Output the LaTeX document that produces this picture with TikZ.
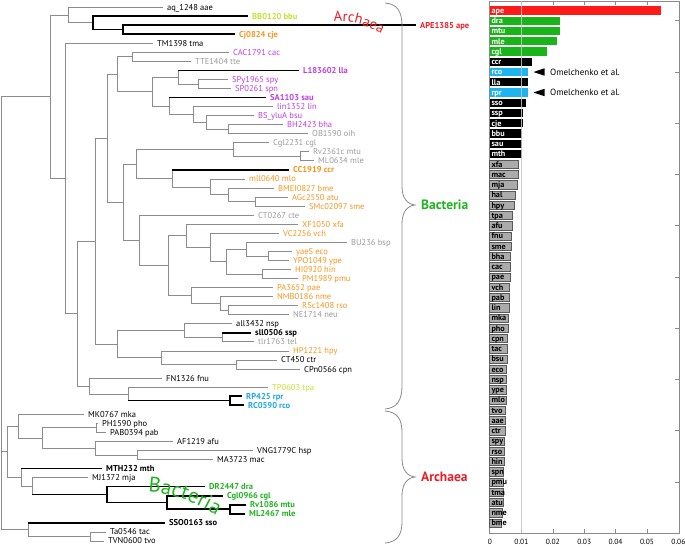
\documentclass[tikz,border=0pt]{standalone}
\usepackage{fontspec}
\setmainfont{PT Sans}
\usetikzlibrary{decorations.text}
\definecolor{brgray}{HTML}{8C8C8C}
\definecolor{tgray}{HTML}{9B9B9B}
\definecolor{orng}{HTML}{F7941D}
\definecolor{purp}{HTML}{C03CE6}
\definecolor{ygrn}{HTML}{C5E02E}
\definecolor{grn}{HTML}{1EB41E}
\definecolor{cyn}{HTML}{1EA5E6}
\definecolor{redt}{HTML}{EE1C25}
\definecolor{barred}{HTML}{FF1A1A}
\definecolor{bargrn}{HTML}{19B419}
\definecolor{barblu}{HTML}{1EB4F0}
\definecolor{bargry}{HTML}{ABABAB}
\definecolor{axcol}{HTML}{8A8A8A}
\newcommand\lfont{\fontsize{8.5}{9}\selectfont}
\newcommand\bfnt{\fontsize{8.2}{8.5}\selectfont\bfseries}
\begin{document}
\begin{tikzpicture}[x=1pt,y=-1pt,
 br/.style={draw=brgray,line width=0.75pt},
 tk/.style={draw=black,line width=1.6pt},
 leaf/.style={anchor=west,inner xsep=4.5pt,inner ysep=0pt,text height=6pt,text depth=0pt,font=\lfont,text=black},
 bd/.style={font=\lfont\bfseries},
 blab/.style={anchor=west,inner sep=0pt,text height=5.8pt,text depth=0pt,font=\bfnt},
 bred/.style={fill=barred},
 bgrn/.style={fill=bargrn},
 bblk/.style={fill=black},
 bblu/.style={fill=barblu},
 bgry/.style={fill=bargry,draw=black!65,line width=0.5pt},
 axl/.style={draw=axcol,line width=0.6pt},
 brace/.style={draw=axcol,line width=0.8pt},
 ticklab/.style={anchor=north,inner sep=0pt,text height=5pt,text depth=0pt,font=\fontsize{7.5}{8}\selectfont}
]
\useasboundingbox (0,0) rectangle (685,547);

% ---------- internal nodes ----------
\coordinate (root) at (1,313.15);
\coordinate (Bact) at (50,96.65);
\coordinate (aaeG) at (68,14.92);
\coordinate (G1) at (93,22.84);
\coordinate (G2) at (123,29.625);
\coordinate (Rest) at (65,178.38);
\coordinate (R2) at (77,313.55);
\coordinate (R3) at (95,241.14);
\coordinate (R4) at (89,385.97);
\coordinate (R5) at (128,393.89);
\coordinate (R6) at (230,400.675);
\coordinate (R7) at (107,138.17);
\coordinate (R8) at (117,344.11);
\coordinate (R9) at (184,330.54);
\coordinate (R11) at (222,337.325);
\coordinate (R10) at (161,357.69);
\coordinate (R12) at (236,364.475);
\coordinate (R13) at (117,74.17);
\coordinate (R32) at (132,56.775);
\coordinate (R33) at (152,91.56);
\coordinate (R35) at (178,77.14);
\coordinate (R34) at (198,83.925);
\coordinate (R39) at (169,105.98);
\coordinate (R38) at (193,114.47);
\coordinate (R37) at (206,122.39);
\coordinate (R36) at (228,129.175);
\coordinate (R14) at (123,202.18);
\coordinate (R15) at (136,163.96);
\coordinate (CglG) at (233,149.54);
\coordinate (R18) at (300,156.325);
\coordinate (R17) at (172,178.385);
\coordinate (R19) at (210,186.87);
\coordinate (R20) at (228,194.79);
\coordinate (R21) at (255,201.575);
\coordinate (R16) at (139,240.4);
\coordinate (R22) at (168,265.64);
\coordinate (R23) at (186,235.8);
\coordinate (R25) at (210,247.39);
\coordinate (R26) at (226,261.53);
\coordinate (bspG) at (246,249.09);
\coordinate (ecoG) at (268,255.875);
\coordinate (hinG) at (262,273.975);
\coordinate (R24) at (191,295.47);
\coordinate (R29) at (220,303.39);
\coordinate (R30) at (228,310.175);
\coordinate (Arch1) at (7,451.72);
\coordinate (A1) at (18,426.13);
\coordinate (A3) at (42,438.01);
\coordinate (A4) at (96,427.825);
\coordinate (A5) at (95,448.19);
\coordinate (A6) at (137,454.975);
\coordinate (A2) at (21,477.32);
\coordinate (A7) at (32,486.08);
\coordinate (A8) at (107,494.57);
\coordinate (A9) at (167,502.49);
\coordinate (A10) at (230,509.275);
\coordinate (SsoG) at (28,529.64);
\coordinate (A11) at (90,536.425);

% ---------- leaves ----------
\node[leaf] (n1) at (162.5,7.00) {aq\_1248 aae};
\node[leaf,bd,text=ygrn] (n2) at (247.5,16.05) {BB0120 bbu};
\node[leaf,bd,text=redt] (n3) at (415.5,25.10) {APE1385 ape};
\node[leaf,bd,text=orng] (n4) at (234.5,34.15) {Cj0824 cje};
\node[leaf] (n5) at (152.5,43.20) {TM1398 tma};
\node[leaf,text=purp] (n6) at (228.5,52.25) {CAC1791 cac};
\node[leaf,text=tgray] (n7) at (190.5,61.30) {TTE1404 tte};
\node[leaf,bd,text=purp] (n8) at (298.5,70.35) {L183602 lla};
\node[leaf,text=purp] (n9) at (227.5,79.40) {SPy1965 spy};
\node[leaf,text=purp] (n10) at (230.5,88.45) {SP0261 spn};
\node[leaf,bd,text=purp] (n11) at (265.5,97.50) {SA1103 sau};
\node[leaf,text=purp] (n12) at (272.5,106.55) {lin1352 lin};
\node[leaf,text=purp] (n13) at (253.5,115.60) {BS\_yluA bsu};
\node[leaf,text=purp] (n14) at (282.5,124.65) {BH2423 bha};
\node[leaf,text=tgray] (n15) at (307.5,133.70) {OB1590 oih};
\node[leaf,text=tgray] (n16) at (268.5,142.75) {Cgl2231 cgl};
\node[leaf,text=tgray] (n17) at (308.5,151.80) {Rv2361c mtu};
\node[leaf,text=tgray] (n18) at (313.5,160.85) {ML0634 mle};
\node[leaf,bd,text=orng] (n19) at (288.5,169.90) {CC1919 ccr};
\node[leaf,text=orng] (n20) at (244.5,178.95) {mll0640 mlo};
\node[leaf,text=orng] (n21) at (273.5,188.00) {BMEI0827 bme};
\node[leaf,text=orng] (n22) at (287.5,197.05) {AGc2550 atu};
\node[leaf,text=orng] (n23) at (304.5,206.10) {SMc02097 sme};
\node[leaf,text=tgray] (n24) at (253.5,215.15) {CT0267 cte};
\node[leaf,text=orng] (n25) at (297.5,224.20) {XF1050 xfa};
\node[leaf,text=orng] (n26) at (278.5,233.25) {VC2256 vch};
\node[leaf,text=tgray] (n27) at (346.5,242.30) {BU236 bsp};
\node[leaf,text=orng] (n28) at (291.5,251.35) {yaeS eco};
\node[leaf,text=orng] (n29) at (288.5,260.40) {YPO1049 ype};
\node[leaf,text=orng] (n30) at (290.5,269.45) {HI0920 hin};
\node[leaf,text=orng] (n31) at (297.5,278.50) {PM1989 pmu};
\node[leaf,text=orng] (n32) at (272.5,287.55) {PA3652 pae};
\node[leaf,text=orng] (n33) at (272.5,296.60) {NMB0186 nme};
\node[leaf,text=orng] (n34) at (297.5,305.65) {RSc1408 rso};
\node[leaf,text=tgray] (n35) at (288.5,314.70) {NE1714 neu};
\node[leaf] (n36) at (231.5,323.75) {all3432 nsp};
\node[leaf,bd] (n37) at (250.5,332.80) {sll0506 ssp};
\node[leaf,text=tgray] (n38) at (253.5,341.85) {tlr1763 tel};
\node[leaf,text=orng] (n39) at (288.5,350.90) {HP1221 hpy};
\node[leaf] (n40) at (276.5,359.95) {CT450 ctr};
\node[leaf] (n41) at (299.5,369.00) {CPn0566 cpn};
\node[leaf] (n42) at (161.5,378.05) {FN1326 fnu};
\node[leaf,text=ygrn] (n43) at (267.5,387.10) {TP0603 tpa};
\node[leaf,bd,text=cyn] (n44) at (241.5,396.15) {RP425 rpr};
\node[leaf,bd,text=cyn] (n45) at (243.5,405.20) {RC0590 rco};
\node[leaf] (n46) at (83.5,414.25) {MK0767 mka};
\node[leaf] (n47) at (97.5,423.30) {PH1590 pho};
\node[leaf] (n48) at (105.5,432.35) {PAB0394 pab};
\node[leaf] (n49) at (172.5,441.40) {AF1219 afu};
\node[leaf] (n50) at (252.5,450.45) {VNG1779C hsp};
\node[leaf] (n51) at (212.5,459.50) {MA3723 mac};
\node[leaf,bd] (n52) at (101.5,468.55) {MTH232 mth};
\node[leaf] (n53) at (87.5,477.60) {MJ1372 mja};
\node[leaf,bd,text=grn] (n54) at (204.5,486.65) {DR2447 dra};
\node[leaf,bd,text=grn] (n55) at (222.5,495.70) {Cgl0966 cgl};
\node[leaf,bd,text=grn] (n56) at (245.5,504.75) {Rv1086 mtu};
\node[leaf,bd,text=grn] (n57) at (244.5,513.80) {ML2467 mle};
\node[leaf,bd] (n58) at (164.5,522.85) {SSO0163 sso};
\node[leaf] (n59) at (105.5,531.90) {Ta0546 tac};
\node[leaf] (n60) at (103.5,540.95) {TVN0600 tvo};

% ---------- thin branches ----------
\foreach \a/\b in {root/Bact,root/Arch1,root/SsoG,Bact/aaeG,Bact/Rest,aaeG/G1,Rest/R2,R2/R3,R2/R4,R4/R5,R5/R6,R3/R7,R3/R8,R8/R9,R8/R10,R9/R11,R10/R12,R7/R13,R7/R14,R13/R32,R13/R33,R33/R35,R33/R39,R35/R34,R39/R38,R38/R37,R37/R36,R14/R15,R14/R16,R15/CglG,R15/R17,CglG/R18,R17/R19,R19/R20,R20/R21,R16/R22,R22/R23,R22/R24,R23/R25,R25/R26,R26/bspG,R26/hinG,bspG/ecoG,R24/R29,R29/R30,Arch1/A1,Arch1/A2,A1/A3,A3/A4,A3/A5,A5/A6,A2/A7,A7/A8,SsoG/A11}
  \draw[br] (\a) |- (\b);
\foreach \a/\b in {aaeG/n1,Rest/n5,R32/n6,R32/n7,R35/n8,R34/n9,R34/n10,R39/n11,R38/n12,R37/n13,R36/n14,R36/n15,CglG/n16,R18/n17,R18/n18,R17/n19,R19/n20,R20/n21,R21/n22,R21/n23,R16/n24,R23/n25,R25/n26,bspG/n27,ecoG/n28,ecoG/n29,hinG/n30,hinG/n31,R24/n32,R29/n33,R30/n34,R30/n35,R9/n36,R11/n37,R11/n38,R10/n39,R12/n40,R12/n41,R4/n42,R5/n43,A1/n46,A4/n47,A4/n48,A5/n49,A6/n50,A6/n51,A2/n52,A7/n53,SsoG/n58,A11/n59,A11/n60}
  \draw[br] (\a) |- (\b.west);
% ---------- thick branches ----------
\foreach \a/\b in {R5/R6,A7/A8}
  \draw[tk] (\a |- \b) -- (\b);
\foreach \a/\b in {R35/n8,R39/n11,R17/n19,R11/n37,A2/n52,SsoG/n58}
  \draw[tk] (\a |- \b.west) -- (\b.west);
\foreach \a/\b in {G1/G2,A8/A9,A9/A10}
  \draw[tk] (\a) |- (\b);
\foreach \a/\b in {G1/n2,G2/n3,G2/n4,R6/n44,R6/n45,A8/n54,A9/n55,A10/n56,A10/n57}
  \draw[tk] (\a) |- (\b.west);

% ---------- curved group words ----------
\path[decorate,decoration={text along path,text={|\fontsize{14.5}{15}\selectfont\color{redt}|Archaea}}]
  (334,22) .. controls (353,20) and (372,27) .. (394,41);
\path[decorate,decoration={text along path,text={|\fontsize{21}{21}\selectfont\color{grn}|Bacteria}}]
  (148,492) .. controls (172,493) and (200,503) .. (228,523);

% ---------- braces ----------
\draw[brace] (385,3) .. controls (397,4) and (402,11) .. (402,26) -- (402,186)
  .. controls (402,198) and (407,204) .. (415,205)
  .. controls (407,206) and (402,212) .. (402,224) -- (402,386)
  .. controls (402,400) and (397,408) .. (385,409);
\draw[brace] (385,411) .. controls (397,412) and (402,419) .. (402,432) -- (402,458)
  .. controls (402,470) and (407,476) .. (415,477)
  .. controls (407,478) and (402,484) .. (402,496) -- (402,522)
  .. controls (402,535) and (397,542) .. (385,543);
\node[anchor=west,inner sep=0pt,font=\fontsize{13.5}{14}\selectfont\bfseries,text=grn] (lbact) at (421,205) {Bacteria};
\node[anchor=west,inner sep=0pt,font=\fontsize{13.5}{14}\selectfont\bfseries,text=redt] (larch) at (421,477) {Archaea};

% ---------- bar chart ----------
\draw[axl] (489,1) rectangle (679.5,533.25);
\foreach \v in {1,...,5}{
  \draw[axl] ({490+\v*31.4},1) -- ++(0,4);
  \draw[axl] ({490+\v*31.4},533.25) -- ++(0,-4);
}
\foreach \p in {5,10,...,50}
  \draw[axl] (679.5,{533.25-\p*10.25}) -- ++(-5,0);
\foreach \p/\lab/\xe/\bs/\tc in {
51/ape/661/bred/white,50/dra/560/bgrn/white,49/mtu/560/bgrn/white,48/mle/557/bgrn/white,
47/cgl/547/bgrn/white,46/ccr/532/bblk/white,45/rco/528/bblu/white,44/lla/528/bblk/white,
43/rpr/528/bblu/white,42/sso/526/bblk/white,41/ssp/523/bblk/white,40/cje/523/bblk/white,
39/bbu/522/bblk/white,38/sau/522/bblk/white,37/mth/522/bblk/white,36/xfa/518/bgry/black,
35/mac/518/bgry/black,34/mja/517/bgry/black,33/hal/515/bgry/black,32/hpy/514/bgry/black,
31/tpa/512/bgry/black,30/afu/512/bgry/black,29/fnu/511/bgry/black,28/sme/511/bgry/black,
27/bha/510/bgry/black,26/cac/510/bgry/black,25/pae/510/bgry/black,24/vch/509/bgry/black,
23/pab/509/bgry/black,22/lin/509/bgry/black,21/mka/508/bgry/black,20/pho/508/bgry/black,
19/cpn/507/bgry/black,18/tac/507/bgry/black,17/bsu/507/bgry/black,16/eco/506/bgry/black,
15/nsp/506/bgry/black,14/ype/506/bgry/black,13/mlo/506/bgry/black,12/tvo/505/bgry/black,
11/aae/505/bgry/black,10/ctr/505/bgry/black,9/spy/504/bgry/black,8/rso/504/bgry/black,
7/hin/504/bgry/black,6/spn/503/bgry/black,5/pmu/503/bgry/black,4/tma/503/bgry/black,
3/atu/503/bgry/black,2/nme/502/bgry/black,1/bme/501/bgry/black}{
  \path[\bs] (489.5,{533.25-\p*10.25-4.1}) rectangle (\xe,{533.25-\p*10.25+4.1});
  \node[blab,text=\tc] (b\lab) at (491.3,{533.25-\p*10.25}) {\lab};
}
\draw[gray!45,line width=0.8pt,opacity=0.85] (521.4,1) -- (521.4,533.25);
\foreach \v/\t in {0/0,1/0.01,2/0.02,3/0.03,4/0.04,5/0.05,6/0.06}
  \node[ticklab] (tl\v) at ({490+\v*31.4},539.5) {\t};

% ---------- annotations ----------
\node[anchor=west,inner sep=0pt,font=\fontsize{9}{10}\selectfont] (om1) at (550,72) {Omelchenko et al.};
\node[anchor=west,inner sep=0pt,font=\fontsize{9}{10}\selectfont] (om2) at (550,92.5) {Omelchenko et al.};
\fill (533.5,72) -- (544.5,68.3) -- (544.5,75.7) -- cycle;
\fill (533.5,92.5) -- (544.5,88.8) -- (544.5,96.2) -- cycle;
\end{tikzpicture}
\end{document}
